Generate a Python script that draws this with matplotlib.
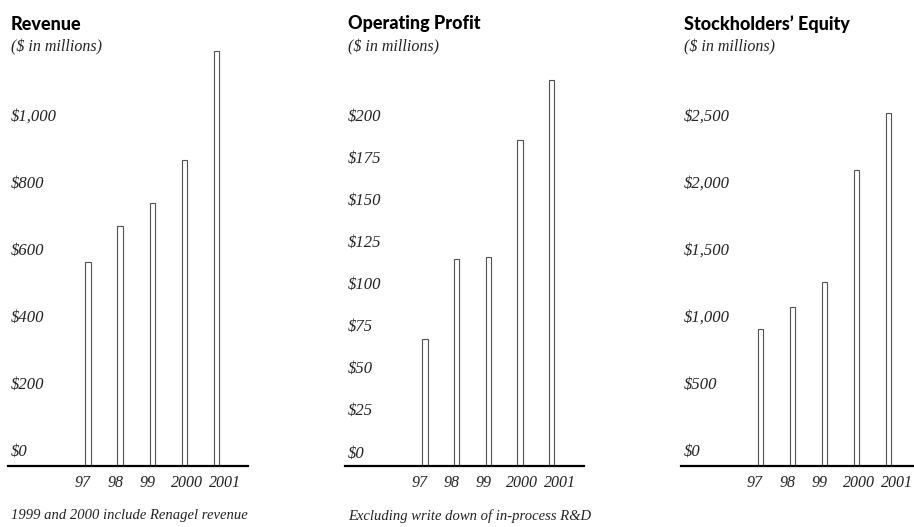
import matplotlib
matplotlib.use('Agg')
import matplotlib.pyplot as plt
import matplotlib.transforms as mtransforms

# Data (values in $ millions)
years = ['97', '98', '99', '2000', '2001']
revenue = [567, 675, 741, 871, 1197]
operating_profit = [67.7, 115.2, 116.4, 186.0, 221.7]
equity = [913, 1082, 1266, 2102, 2530]

revenue_ticks = [0, 200, 400, 600, 800, 1000]
profit_ticks = [0, 25, 50, 75, 100, 125, 150, 175, 200]
equity_ticks = [0, 500, 1000, 1500, 2000, 2500]

titles = ['Revenue', 'Operating Profit', "Stockholders\u2019 Equity"]
subtitle = '($ in millions)'
footnotes = ['1999 and 2000 include Renagel revenue',
             'Excluding write down of in-process R&D', '']

W, H = 914, 527
fig = plt.figure(figsize=(W / 100, H / 100), dpi=100)

serif = 'Liberation Serif'
title_font = 'Lato'
txt_color = '#222222'

# per panel layout in pixels: left, width, xlim, ylim
panels = [
    dict(vals=revenue, ticks=revenue_ticks, left=8, width=240,
         xlim=(-2.49, 4.98), ylim=(-41.8, 1243.9)),
    dict(vals=operating_profit, ticks=profit_ticks, left=345, width=239,
         xlim=(-2.52, 5.02), ylim=(-7.36, 248.4)),
    dict(vals=equity, ticks=equity_ticks, left=681, width=233,
         xlim=(-2.48, 4.8), ylim=(-104.5, 3110)),
]
top_px, bottom_px = 35, 465.7
label_offsets = [-0.17, -0.15, -0.14, 0.07, 0.26]

for i, p in enumerate(panels):
    ax = fig.add_axes([p['left'] / W, 1 - bottom_px / H,
                       p['width'] / W, (bottom_px - top_px) / H])
    ax.set_xlim(*p['xlim'])
    ax.set_ylim(*p['ylim'])
    x = list(range(len(years)))
    ymin = p['ylim'][0]
    # thin outlined bars standing on the baseline
    ax.bar(x, [v - ymin for v in p['vals']], bottom=ymin, width=0.17,
           facecolor='white', edgecolor='#505050', linewidth=0.8)
    for s in ['top', 'left', 'right']:
        ax.spines[s].set_visible(False)
    ax.spines['bottom'].set_linewidth(1.6)
    ax.spines['bottom'].set_color('black')
    ax.set_xticks([])
    ax.set_yticks([])

    trans = mtransforms.blended_transform_factory(ax.transAxes, ax.transData)
    for t in p['ticks']:
        ax.text(0.013, t, '${:,}'.format(t), transform=trans, ha='left',
                va='center', family=serif, style='italic', fontsize=12,
                color=txt_color)

    shift = mtransforms.ScaledTranslation(0, -7 / 72, fig.dpi_scale_trans)
    for j, yr in enumerate(years):
        ax.text(j + label_offsets[j], ymin, yr, ha='center', va='top',
                family=serif, style='italic', fontsize=11.5, color=txt_color,
                transform=ax.transData + shift)

    tx = (p['left'] + 3) / W
    fig.text(tx, 1 - 24 / H, titles[i], ha='left', va='center',
             family=title_font, weight='black', fontsize=13, color='black')
    fig.text(tx, 1 - 47 / H, subtitle, ha='left', va='center',
             family=serif, style='italic', fontsize=11.5, color=txt_color)
    if footnotes[i]:
        fig.text(tx, 1 - 516 / H, footnotes[i], ha='left', va='center',
                 family=serif, style='italic', fontsize=10.5, color=txt_color)

fig.savefig('out.png', dpi=100)
